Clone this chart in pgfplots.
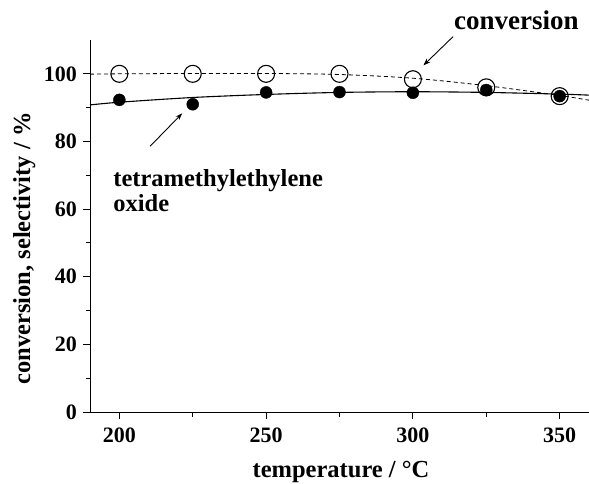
\documentclass[border=0pt]{standalone}
\usepackage{pgfplots}
\pgfplotsset{compat=1.18}
\usepackage{fontspec}
\setmainfont{Liberation Serif}
\usetikzlibrary{arrows.meta}
\begin{document}
\begin{tikzpicture}[x=1pt,y=1pt]
\path[use as bounding box] (0,0) rectangle (589,483);
\begin{axis}[
  at={(90pt,71pt)}, anchor=south west,
  scale only axis, width=499pt, height=372pt,
  xmin=190, xmax=360, ymin=0, ymax=110,
  axis lines*=left,
  axis line style={line width=0.9pt},
  xtick={200,250,300,350}, ytick={0,20,40,60,80,100},
  minor xtick={225,275,325}, minor ytick={10,30,50,70,90},
  tick align=outside,
  major tick length=7pt, minor tick length=4.5pt,
  every tick/.style={black, line width=0.9pt},
  /pgf/number format/assume math mode=true,
  ticklabel style={font=\fontsize{22}{24}\selectfont\bfseries},
  xticklabel style={anchor=base, inner sep=0pt, yshift=-23.5pt},
  yticklabel style={anchor=east, inner sep=0pt, xshift=-6pt},
  xlabel={temperature / °C},
  ylabel={conversion, selectivity / \%},
  label style={font=\fontsize{24.5}{26}\selectfont\bfseries},
  xlabel style={at={(axis description cs:0.503,-0.1774)}, anchor=base, inner sep=0pt},
  ylabel style={at={(axis description cs:-0.1202,0.4395)}, anchor=base, inner sep=0pt},
  clip=false,
]
% fitted curves
\addplot[black, line width=0.8pt, dash pattern=on 4pt off 3pt, smooth] coordinates {
(190,99.9) (200,100.0) (225,100.1) (250,100.1) (275,99.8) (300,98.7) (325,96.5) (350,93.6) (360,92.2)};
\addplot[black, line width=1.1pt, smooth] coordinates {
(190,90.8) (200,91.6) (225,93.0) (250,93.9) (275,94.5) (300,94.7) (325,94.5) (350,94.0) (360,93.7)};
% conversion (open circles)
\addplot[only marks, mark=o, mark size=8.5pt, mark options={line width=1.1pt, black, fill=none}] coordinates {
(200,100) (225,100) (250,100) (275,100) (300,98.4) (325,96.0) (350,93.4)};
% selectivity (filled circles)
\addplot[only marks, mark=*, mark size=6pt, mark options={black, fill=black}] coordinates {
(200,92.3) (225,91.0) (250,94.5) (275,94.6) (300,94.4) (325,95.2) (350,93.4)};
% annotations
\node[font=\fontsize{27}{29}\selectfont\bfseries, anchor=base west, inner sep=0pt] at (axis cs:314.0,113.0) {conversion};
\draw[-{Stealth[length=7pt,width=5pt]}, line width=0.9pt] (axis cs:313.7,111) -- (axis cs:303.6,102.5);
\node[font=\fontsize{24.5}{26}\selectfont\bfseries, anchor=base west, inner sep=0pt] at (axis cs:197.9,66.66) {tetramethylethylene};
\node[font=\fontsize{24.5}{26}\selectfont\bfseries, anchor=base west, inner sep=0pt] at (axis cs:197.9,59.26) {oxide};
\draw[-{Stealth[length=7pt,width=5pt]}, line width=0.9pt] (axis cs:210.5,78.6) -- (axis cs:221.4,88.3);
\end{axis}
\end{tikzpicture}
\end{document}
